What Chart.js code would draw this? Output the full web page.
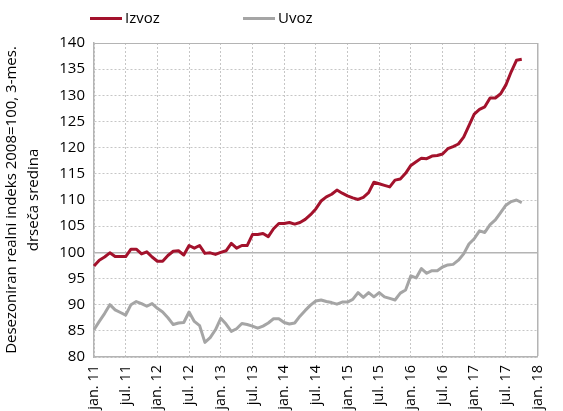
<!DOCTYPE html>
<html>
<head>
<meta charset="utf-8">
<script src="https://cdn.jsdelivr.net/npm/chart.js@4"></script>
<style>
  body { margin: 0; background: #fff; font-family: 'Open Sans', sans-serif; }
  #wrap { position: relative; width: 563px; height: 411px; }
  #legend { position: absolute; top: 6px; left: 0; width: 563px; height: 22px; font-size: 15px; color: #000; }
  .item { position: absolute; top: 0; height: 22px; line-height: 22px; }
  .swatch { display: inline-block; width: 32px; height: 3px; vertical-align: middle; margin-right: 3px; margin-top: -1px; }
</style>
</head>
<body>
<div id="wrap">
  <canvas id="chart" width="563" height="411"></canvas>
  <div id="legend"></div>
</div>
<script>
// monthly data, jan. 2011 - okt. 2017
const monthNames = ['jan', 'feb', 'mar', 'apr', 'maj', 'jun', 'jul', 'avg', 'sep', 'okt', 'nov', 'dec'];
const years = ['11', '12', '13', '14', '15', '16', '17'];

const izvoz = [
  97.4, 98.5, 99.1, 99.9, 99.2, 99.2, 99.2, 100.6, 100.6, 99.7, 100.1, 99.1,
  98.3, 98.3, 99.4, 100.2, 100.3, 99.5, 101.3, 100.8, 101.3, 99.8, 99.9, 99.6,
  100.0, 100.3, 101.7, 100.8, 101.3, 101.3, 103.4, 103.4, 103.6, 103.0, 104.5, 105.5,
  105.5, 105.7, 105.4, 105.7, 106.3, 107.2, 108.3, 109.8, 110.6, 111.1, 111.9, 111.3,
  110.8, 110.4, 110.1, 110.5, 111.4, 113.4, 113.1, 112.8, 112.5, 113.8, 114.0, 115.1,
  116.6, 117.3, 118.0, 117.9, 118.4, 118.5, 118.8, 119.8, 120.2, 120.7, 122.0, 124.2,
  126.4, 127.3, 127.8, 129.5, 129.5, 130.3, 132.0, 134.5, 136.7, 136.9
];

const uvoz = [
  85.2, 86.8, 88.3, 90.0, 89.0, 88.5, 88.0, 90.0, 90.6, 90.2, 89.7, 90.2,
  89.3, 88.6, 87.5, 86.2, 86.5, 86.6, 88.6, 86.8, 86.0, 82.8, 83.7, 85.2,
  87.4, 86.3, 84.9, 85.4, 86.4, 86.2, 85.9, 85.5, 85.9, 86.5, 87.3, 87.3,
  86.6, 86.3, 86.5, 87.8, 88.9, 89.9, 90.7, 90.9, 90.6, 90.4, 90.1, 90.5,
  90.5, 91.0, 92.3, 91.4, 92.3, 91.5, 92.3, 91.5, 91.2, 90.9, 92.2, 92.8,
  95.5, 95.1, 96.9, 96.0, 96.5, 96.5, 97.2, 97.6, 97.7, 98.5, 99.7, 101.6,
  102.6, 104.1, 103.8, 105.3, 106.2, 107.6, 109.0, 109.7, 110.0, 109.5
];

const labels = [];
years.forEach(y => monthNames.forEach(m => labels.push(m + '. ' + y)));
labels.push('jan. 18');

const yTitle = ['Desezoniran realni indeks 2008=100, 3-mes.', 'drseča sredina'];

const gridGrey = '#c6c6c6';
const axisGrey = '#b4b4b4';

Chart.defaults.font.family = "'Open Sans', sans-serif";
Chart.defaults.font.size = 15;
Chart.defaults.color = '#000';

const chart = new Chart(document.getElementById('chart'), {
  type: 'line',
  data: {
    labels: labels,
    datasets: [{
      label: 'Izvoz',
      data: izvoz,
      borderColor: '#a3122c',
      borderWidth: 3,
      pointRadius: 0,
      borderJoinStyle: 'round',
      fill: false
    }, {
      label: 'Uvoz',
      data: uvoz,
      borderColor: '#a5a5a5',
      borderWidth: 3,
      pointRadius: 0,
      borderJoinStyle: 'round',
      fill: false
    }]
  },
  options: {
    responsive: false,
    animation: false,
    layout: { padding: { top: 43, right: 10, left: 0, bottom: 0 } },
    plugins: {
      legend: { display: false },
      tooltip: { enabled: false }
    },
    scales: {
      x: {
        grid: {
          color: c => (c.index % 6 === 0 ? (c.index === 84 ? axisGrey : gridGrey) : 'rgba(0,0,0,0)'),
          lineWidth: c => (c.index === 84 ? 1.5 : 1),
          drawTicks: false
        },
        border: {
          color: axisGrey,
          width: 1.5,
          dash: c => (c.tick && c.index !== 84 ? [2, 2] : [])
        },
        ticks: {
          autoSkip: false,
          minRotation: 90,
          maxRotation: 90,
          padding: 8,
          font: { size: 14.5 },
          callback: function (val, i) { return i % 6 === 0 ? this.getLabelForValue(val) : ''; }
        },
        afterFit: s => { s.height = 54; }
      },
      y: {
        min: 80,
        max: 140,
        grid: {
          color: c => (c.tick && (c.tick.value === 100 || c.tick.value === 140) ? axisGrey : gridGrey),
          lineWidth: c => (c.tick && c.tick.value === 100 ? 1.5 : 1),
          drawTicks: false
        },
        border: {
          color: axisGrey,
          width: 1.5,
          dash: c => (c.tick && c.tick.value !== 100 && c.tick.value !== 140 ? [2, 2] : [])
        },
        ticks: { stepSize: 5, padding: 9 },
        title: {
          display: true,
          text: yTitle,
          font: { size: 15, lineHeight: 1.5 },
          padding: 0
        },
        afterFit: s => { s.width = 94; }
      }
    }
  }
});

// legend built from the datasets
const legendPos = [90, 243];
const legend = document.getElementById('legend');
chart.data.datasets.forEach((ds, i) => {
  const item = document.createElement('div');
  item.className = 'item';
  item.style.left = legendPos[i] + 'px';
  const sw = document.createElement('span');
  sw.className = 'swatch';
  sw.style.background = ds.borderColor;
  item.appendChild(sw);
  item.appendChild(document.createTextNode(ds.label));
  legend.appendChild(item);
});
</script>
</body>
</html>
